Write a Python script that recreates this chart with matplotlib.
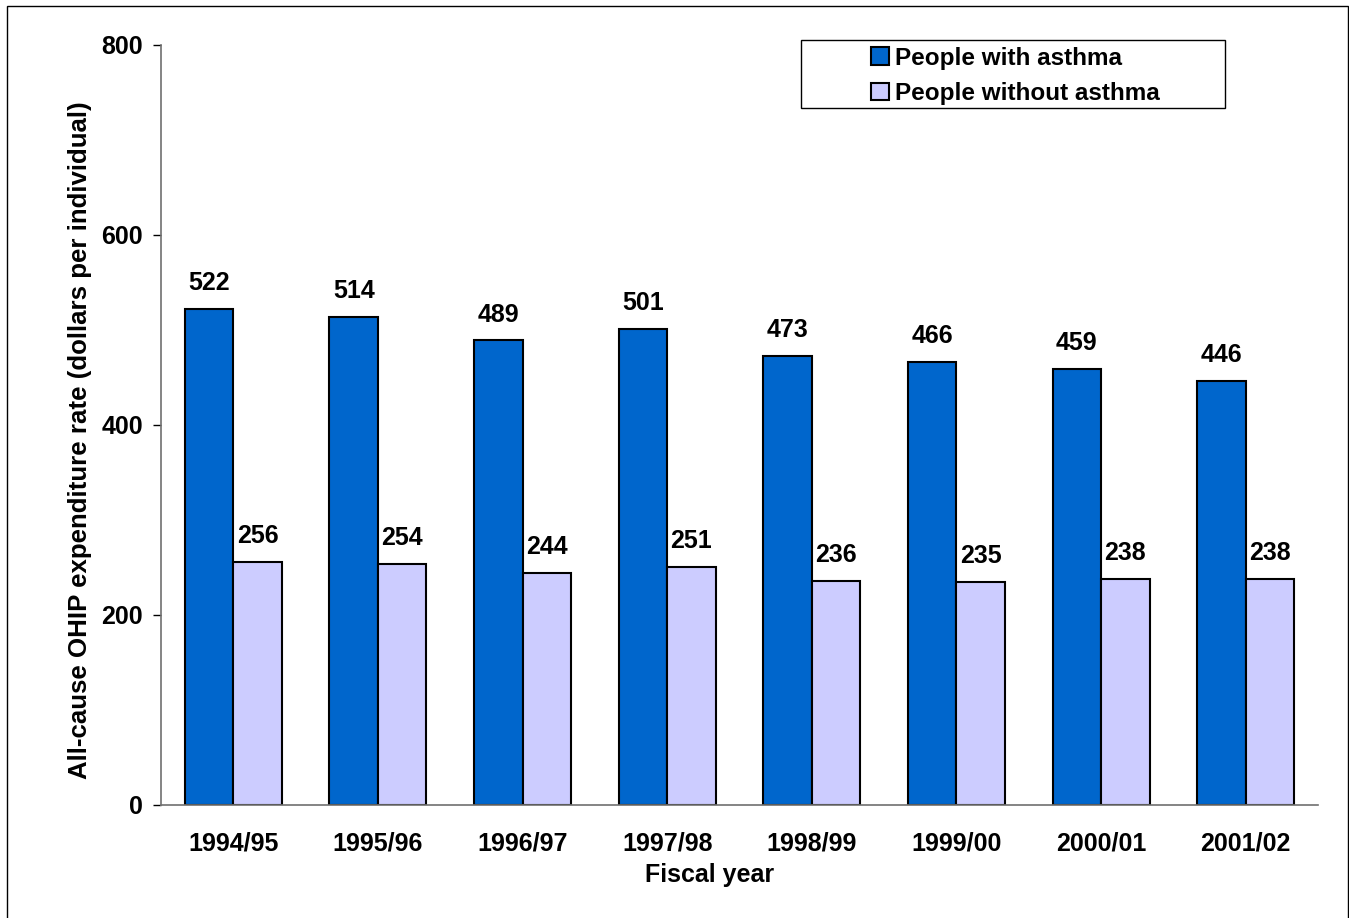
import matplotlib
matplotlib.use("Agg")
import matplotlib.pyplot as plt
import numpy as np
from matplotlib.patches import Rectangle

plt.rcParams['font.family'] = ['Liberation Sans', 'DejaVu Sans']
plt.rcParams['font.weight'] = 'bold'

years = ["1994/95", "1995/96", "1996/97", "1997/98", "1998/99", "1999/00", "2000/01", "2001/02"]
with_asthma = [522, 514, 489, 501, 473, 466, 459, 446]
without_asthma = [256, 254, 244, 251, 236, 235, 238, 238]
series_names = ["People with asthma", "People without asthma"]
y_ticks = [0, 200, 400, 600, 800]

FS = 18
W, H = 1349, 918
fig = plt.figure(figsize=(W / 100, H / 100), dpi=100)
ax = fig.add_axes([161 / W, 1 - 805 / H, (1318 - 161) / W, (805 - 45) / H])

x = np.arange(len(years))
bw = 0.335
b1 = ax.bar(x - bw / 2, with_asthma, bw, color="#0066CC", edgecolor="black",
            linewidth=1.5, label=series_names[0])
b2 = ax.bar(x + bw / 2, without_asthma, bw, color="#CCCCFF", edgecolor="black",
            linewidth=1.5, label=series_names[1])

for rect, v in zip(b1, with_asthma):
    ax.annotate(f"{v}", (rect.get_x() + rect.get_width() / 2, v),
                xytext=(0, 10), textcoords="offset points", ha="center", va="bottom",
                fontsize=FS, fontweight="bold")
for rect, v in zip(b2, without_asthma):
    ax.annotate(f"{v}", (rect.get_x() + rect.get_width() / 2, v),
                xytext=(0, 10), textcoords="offset points", ha="center", va="bottom",
                fontsize=FS, fontweight="bold")

ax.set_xlim(-0.5, len(years) - 0.5)
ax.set_ylim(0, 800)
ax.set_yticks(y_ticks)
ax.set_yticklabels([str(t) for t in y_ticks], fontsize=FS, fontweight="bold")
ax.set_xticks(x)
ax.set_xticklabels(years, fontsize=FS, fontweight="bold")
ax.tick_params(axis="x", length=0, pad=19)
ax.tick_params(axis="y", length=6, width=1, direction="out", pad=7)

for side in ("top", "right"):
    ax.spines[side].set_visible(False)
for side in ("left", "bottom"):
    ax.spines[side].set_color("#707070")
    ax.spines[side].set_linewidth(1.2)

ax.set_xlabel("Fiscal year", fontsize=FS, fontweight="bold")
ax.xaxis.set_label_coords((710 - 161) / 1157, -(875 - 805) / 760)
ax.xaxis.label.set_va("center")
ax.set_ylabel("All-cause OHIP expenditure rate (dollars per individual)",
              fontsize=18.6, fontweight="bold")
ax.yaxis.set_label_coords((80 - 161) / 1157, (805 - 440) / 760)
ax.yaxis.label.set_va("center")

# Legend entries, with a separate wider frame drawn behind them
leg = fig.legend(handles=[b1, b2], labels=series_names,
                 loc="upper left", bbox_to_anchor=(866 / W, 1 - 42 / H),
                 fontsize=17.5, frameon=False,
                 handlelength=0.75, handleheight=0.75, handletextpad=0.25,
                 borderpad=0.2, labelspacing=0.5, borderaxespad=0)
for t in leg.get_texts():
    t.set_fontweight("bold")
fig.patches.append(Rectangle((801 / W, 1 - 108 / H), (1225 - 801) / W, (108 - 40) / H,
                             transform=fig.transFigure, facecolor="white",
                             edgecolor="black", linewidth=1.0, zorder=0.5))

# Outer frame around the whole figure
fig.patches.append(Rectangle((7 / W, -0.01), (1348 - 7) / W, 1 - 6 / H + 0.01,
                             transform=fig.transFigure, fill=False,
                             edgecolor="black", linewidth=1.0))

fig.savefig("out.png", dpi=100)
